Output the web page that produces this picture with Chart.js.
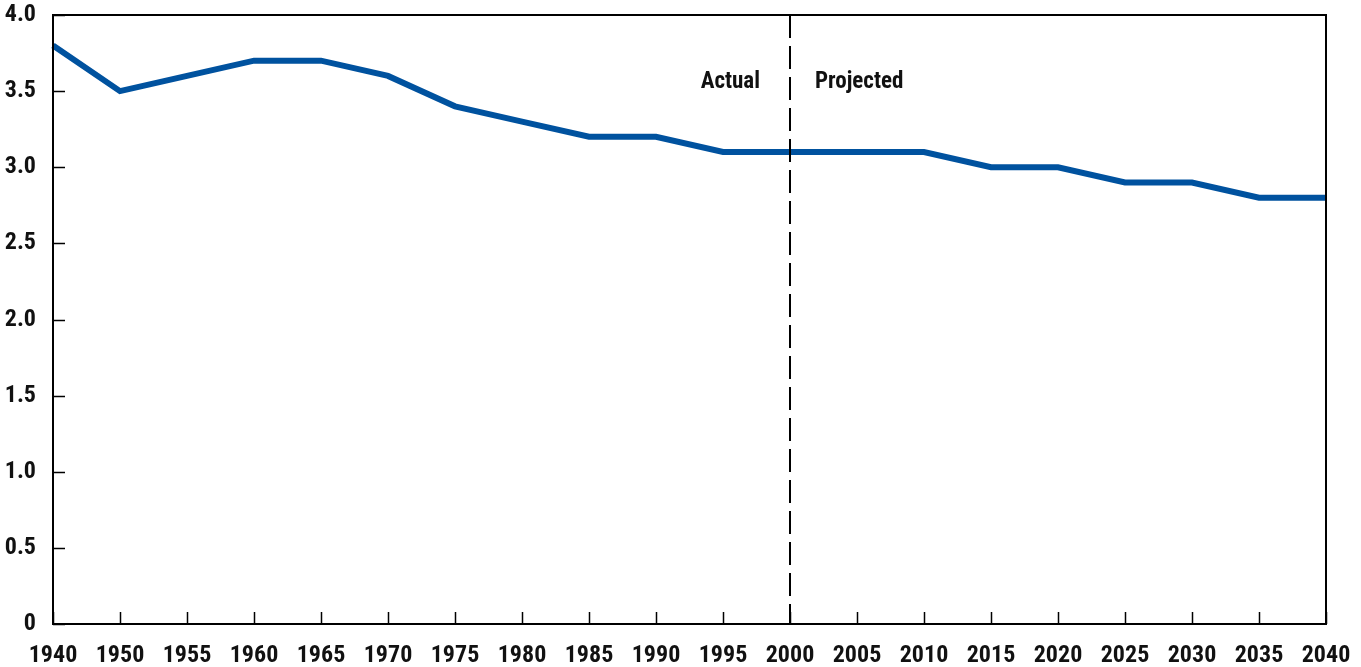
<!DOCTYPE html>
<html>
<head>
<meta charset="utf-8">
<script src="https://cdn.jsdelivr.net/npm/chart.js@4/dist/chart.umd.min.js"></script>
<style>
  html, body { margin: 0; padding: 0; background: #fff; }
  #wrap { width: 1361px; height: 667px; }
</style>
</head>
<body>
<div id="wrap"><canvas id="myChart"></canvas></div>
<script>
let years = ['1940', '1950', '1955', '1960', '1965', '1970', '1975', '1980', '1985', '1990',
             '1995', '2000', '2005', '2010', '2015', '2020', '2025', '2030', '2035', '2040']
let ratio = [3.8, 3.5, 3.6, 3.7, 3.7, 3.6, 3.4, 3.3, 3.2, 3.2,
             3.1, 3.1, 3.1, 3.1, 3.0, 3.0, 2.9, 2.9, 2.8, 2.8]
let yTicks = [0, 0.5, 1.0, 1.5, 2.0, 2.5, 3.0, 3.5, 4.0]
let splitYear = '2000'

const FONT = '"Roboto Condensed", "Open Sans Condensed", sans-serif'

// frame, inward ticks and the actual/projected divider
const framePlugin = {
    id: 'frame',
    afterDraw(chart) {
        const ctx = chart.ctx
        const a = chart.chartArea
        const x = chart.scales.x
        const y = chart.scales.y
        ctx.save()
        ctx.strokeStyle = '#000'
        ctx.lineWidth = 1.5
        ctx.beginPath()
        yTicks.forEach(v => {
            const py = Math.round(y.getPixelForValue(v)) + 0.5
            ctx.moveTo(a.left, py)
            ctx.lineTo(a.left + 12, py)
        })
        years.forEach((yr, i) => {
            const px = Math.round(x.getPixelForValue(i)) + 0.5
            ctx.moveTo(px, a.bottom)
            ctx.lineTo(px, a.bottom - 12)
        })
        ctx.stroke()

        ctx.lineWidth = 2
        ctx.strokeRect(a.left, a.top, a.right - a.left, a.bottom - a.top)

        const sx = Math.round(x.getPixelForValue(years.indexOf(splitYear)))
        ctx.lineWidth = 2
        ctx.setLineDash([23, 8])
        ctx.beginPath()
        ctx.moveTo(sx, a.top)
        ctx.lineTo(sx, a.bottom)
        ctx.stroke()
        ctx.setLineDash([])

        ctx.fillStyle = '#111'
        ctx.font = 'bold 23px ' + FONT
        ctx.textBaseline = 'middle'
        ctx.textAlign = 'right'
        ctx.fillText('Actual', sx - 30, a.top + 67)
        ctx.textAlign = 'left'
        ctx.fillText('Projected', sx + 25, a.top + 67)
        ctx.restore()
    }
}

var ctx = document.getElementById('myChart').getContext('2d')
var chart = new Chart(ctx, {
    type: 'line',
    data: {
        labels: years,
        datasets: [{
            data: ratio,
            borderColor: '#00529f',
            borderWidth: 6,
            pointRadius: 0,
            tension: 0,
            fill: false
        }]
    },
    options: {
        responsive: true,
        maintainAspectRatio: false,
        animation: false,
        layout: { padding: { top: 15, right: 35, left: 0, bottom: 0 } },
        plugins: {
            legend: { display: false },
            tooltip: { enabled: false }
        },
        scales: {
            x: {
                offset: false,
                grid: { display: false, drawTicks: false },
                border: { display: false },
                ticks: {
                    color: '#111',
                    padding: 18,
                    maxRotation: 0,
                    autoSkip: false,
                    font: { family: FONT, size: 24, weight: 'bold' }
                },
                afterFit(scale) {
                    scale.height = 43
                    scale.paddingLeft = 0
                    scale.paddingRight = 0
                }
            },
            y: {
                min: 0,
                max: 4,
                grid: { display: false, drawTicks: false },
                border: { display: false },
                ticks: {
                    stepSize: 0.5,
                    color: '#111',
                    padding: 17,
                    font: { family: FONT, size: 24, weight: 'bold' },
                    callback: v => v === 0 ? '0' : v.toFixed(1)
                },
                afterFit(scale) {
                    scale.width = 53
                    scale.paddingTop = 0
                    scale.paddingBottom = 0
                }
            }
        }
    },
    plugins: [framePlugin]
})
</script>
</body>
</html>
